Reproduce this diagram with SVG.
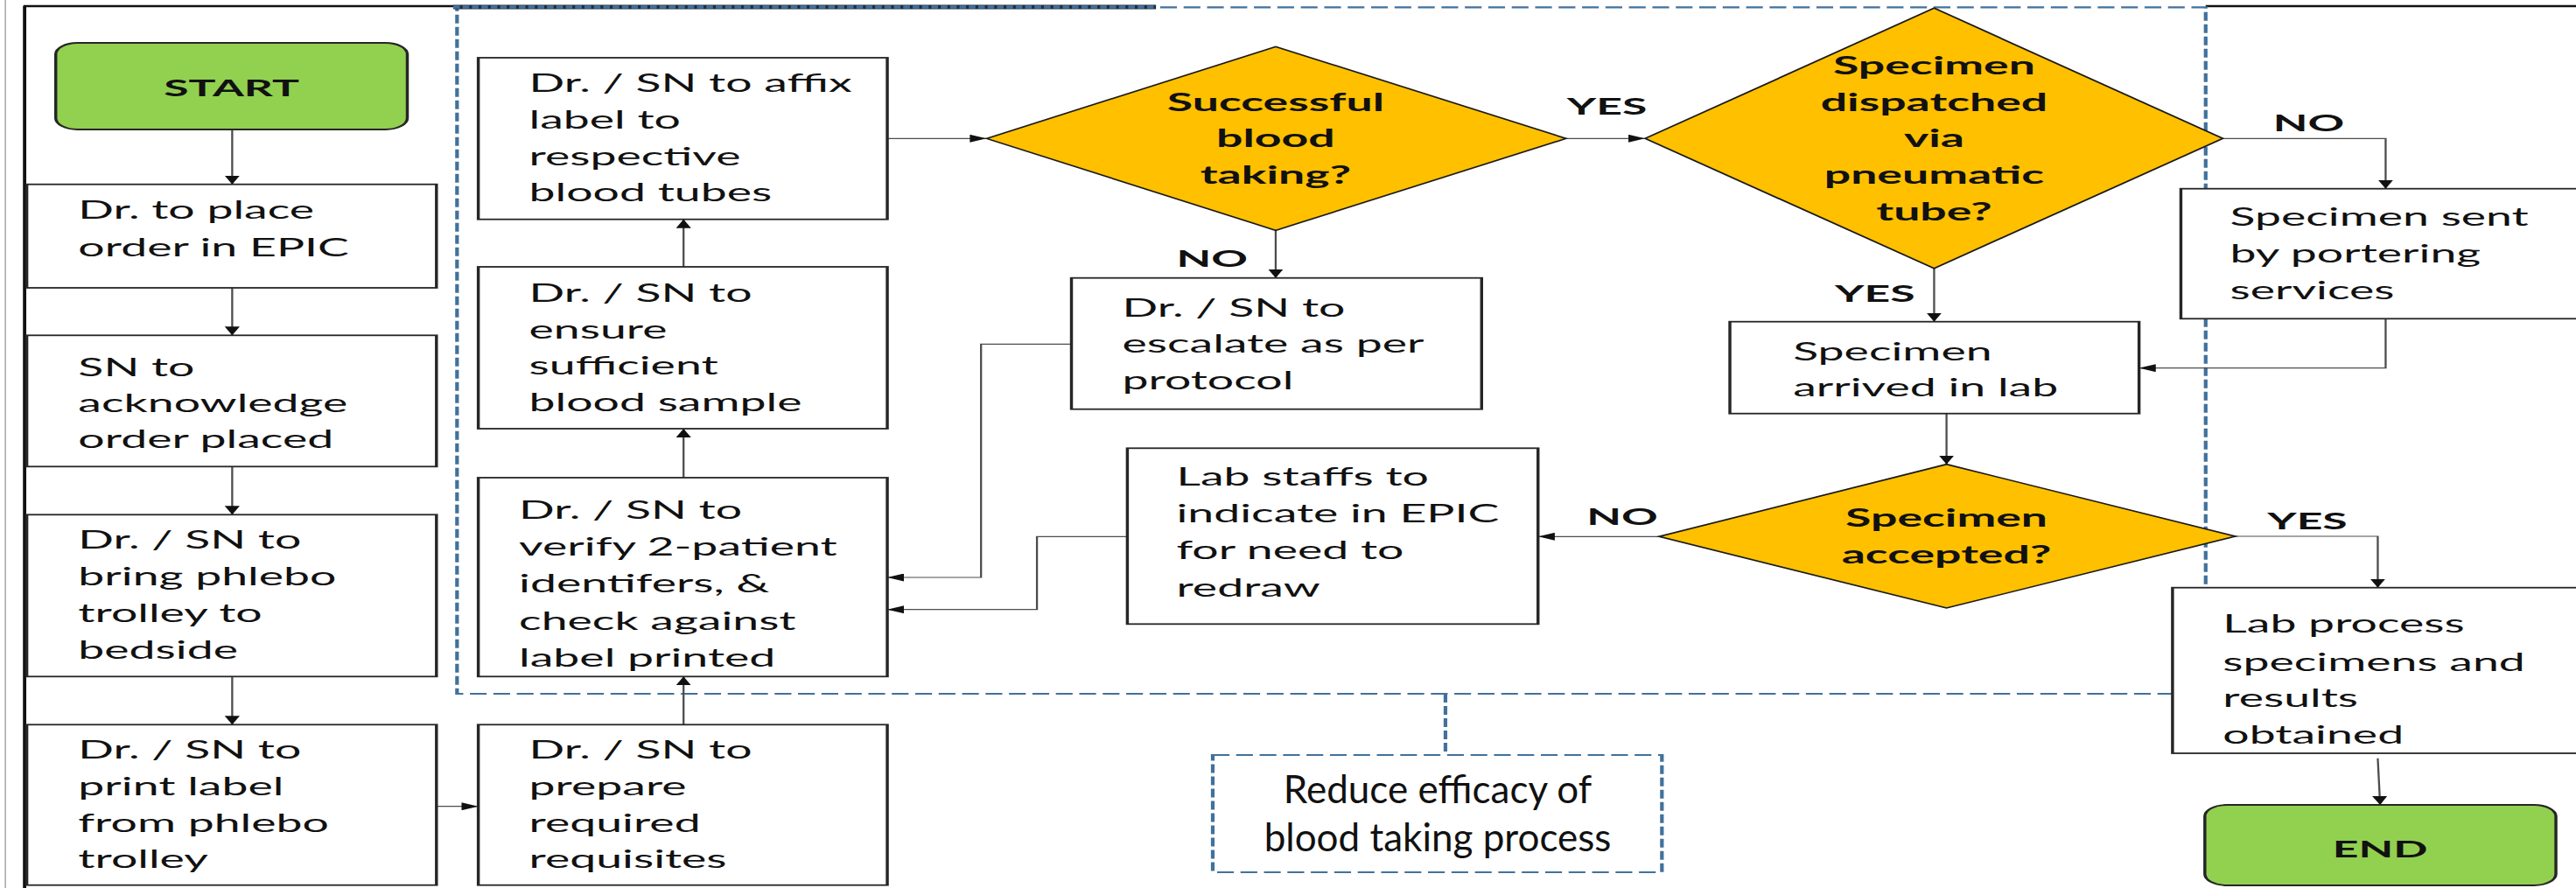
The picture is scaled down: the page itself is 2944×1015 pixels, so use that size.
<svg xmlns="http://www.w3.org/2000/svg" width="2944" height="1015" viewBox="0 0 2944 1015">
<style>
.box{fill:#ffffff;stroke:#262626;stroke-width:1.8}
.term{fill:#92D050;stroke:#262626;stroke-width:1.8}
.dia{fill:#FFC000;stroke:#1a1a1a;stroke-width:1.5}
.t{font-family:Lato,"Liberation Sans",sans-serif;font-size:28px;fill:#111111}
.b{font-family:Lato,"Liberation Sans",sans-serif;font-size:28px;font-weight:bold;fill:#111111;text-anchor:middle}
.lbl{font-family:Lato,"Liberation Sans",sans-serif;font-size:27px;font-weight:bold;fill:#111111}
.con{fill:none;stroke:#4d4d4d;stroke-width:1.2;marker-end:url(#ah)}
.dash{fill:none;stroke:#41719C;stroke-width:2.2;stroke-dasharray:10 4}
.call{font-family:Lato,"Liberation Sans",sans-serif;font-size:44px;fill:#111111;text-anchor:middle}
</style>
<defs>
<marker id="ah" markerUnits="userSpaceOnUse" markerWidth="10" markerHeight="9" refX="10" refY="4.5" orient="auto">
<path d="M0,0 L10,4.5 L0,9 z" fill="#111111"/>
</marker>
</defs>
<rect x="0" y="0" width="2944" height="1015" fill="#ffffff"/>
<g transform="scale(1.9133,1)">
<g id="frame">
<line x1="3.2" y1="0" x2="3.2" y2="1015" stroke="#9a9a9a" stroke-width="0.7"/>
<line x1="14.7" y1="7" x2="14.7" y2="1015" stroke="#111111" stroke-width="2"/>
<line x1="14" y1="7" x2="271" y2="7" stroke="#111111" stroke-width="2.5"/>
<line x1="1317.5" y1="7" x2="1539" y2="7" stroke="#111111" stroke-width="2.5"/>
</g>
<g id="region">
<path class="dash" d="M273,8.3 H1317.5 V793 H273 Z"/>
<line x1="270.7" y1="8" x2="690.5" y2="8" stroke="#1f2d3d" stroke-width="5"/>
<line x1="270.7" y1="8" x2="690.5" y2="8" stroke="#41719C" stroke-width="3.5" stroke-dasharray="4 1.6"/>
<line class="dash" x1="863.4" y1="793" x2="863.4" y2="863"/>
<rect class="dash" x="724.4" y="863" width="268.3" height="134"/>
</g>
<g id="connectors">
<path class="con" d="M138.7,148 V210.7"/>
<path class="con" d="M138.7,329 V383.3"/>
<path class="con" d="M138.7,533.3 V588.3"/>
<path class="con" d="M138.7,773.3 V828.3"/>
<path class="con" d="M260.7,921.7 H285.7"/>
<path class="con" d="M408.3,828.3 V773.3"/>
<path class="con" d="M408.3,546 V490"/>
<path class="con" d="M408.3,305 V250.7"/>
<path class="con" d="M530,158.3 H589.3"/>
<path class="con" d="M935.4,158.3 H982.7"/>
<path class="con" d="M762,263.3 V317.7"/>
<path class="con" d="M640,393.3 H586 V660 H530"/>
<path class="con" d="M673.4,613.3 H619.4 V696.7 H530"/>
<path class="con" d="M991,613.3 H918.7"/>
<path class="con" d="M1327.7,158.3 H1425 V215.7"/>
<path class="con" d="M1155.3,306.7 V367.7"/>
<path class="con" d="M1425,364.3 V420.7 H1277.7"/>
<path class="con" d="M1162.7,472.7 V530.7"/>
<path class="con" d="M1335.3,613 H1420.3 V671.7"/>
<path class="con" d="M1420.3,866.7 L1421.7,920"/>
</g>
<g id="labels">
<text class="lbl" x="936" y="130.7">YES</text>
<text class="lbl" x="702.7" y="305">NO</text>
<text class="lbl" x="1357.7" y="150">NO</text>
<text class="lbl" x="1096" y="345">YES</text>
<text class="lbl" x="947.7" y="600">NO</text>
<text class="lbl" x="1354.3" y="605">YES</text>
</g>
<g id="start">
<rect class="term" x="33.3" y="49" width="210" height="99" rx="13"/>
<text class="b" x="138.3" y="110" style="font-size:27px">START</text>
</g>
<g id="place-order">
<rect class="box" x="16" y="210.7" width="244.7" height="118.3"/>
<text class="t" x="46.7" y="250">Dr. to place</text>
<text class="t" x="46.7" y="292.7">order in EPIC</text>
</g>
<g id="acknowledge">
<rect class="box" x="16" y="383.3" width="244.7" height="150"/>
<text class="t" x="46.7" y="430">SN to</text>
<text class="t" x="46.7" y="471">acknowledge</text>
<text class="t" x="46.7" y="512">order placed</text>
</g>
<g id="bring-trolley">
<rect class="box" x="16" y="588.3" width="244.7" height="185"/>
<text class="t" x="46.7" y="627">Dr. / SN to</text>
<text class="t" x="46.7" y="669">bring phlebo</text>
<text class="t" x="46.7" y="711">trolley to</text>
<text class="t" x="46.7" y="753">bedside</text>
</g>
<g id="print-label">
<rect class="box" x="16" y="828.3" width="244.7" height="183.4"/>
<text class="t" x="46.7" y="867">Dr. / SN to</text>
<text class="t" x="46.7" y="909">print label</text>
<text class="t" x="46.7" y="951">from phlebo</text>
<text class="t" x="46.7" y="992">trolley</text>
</g>
<g id="prepare">
<rect class="box" x="285.7" y="828.3" width="244.3" height="183.4"/>
<text class="t" x="316" y="867">Dr. / SN to</text>
<text class="t" x="316" y="909">prepare</text>
<text class="t" x="316" y="951">required</text>
<text class="t" x="316" y="992">requisites</text>
</g>
<g id="verify">
<rect class="box" x="285.7" y="546" width="244.3" height="227.3"/>
<text class="t" x="310" y="593">Dr. / SN to</text>
<text class="t" x="310" y="635">verify 2-patient</text>
<text class="t" x="310" y="677">identifers, &amp;</text>
<text class="t" x="310" y="720">check against</text>
<text class="t" x="310" y="762">label printed</text>
</g>
<g id="ensure">
<rect class="box" x="285.7" y="305" width="244.3" height="185"/>
<text class="t" x="316" y="345">Dr. / SN to</text>
<text class="t" x="316" y="387">ensure</text>
<text class="t" x="316" y="428">sufficient</text>
<text class="t" x="316" y="470">blood sample</text>
</g>
<g id="affix">
<rect class="box" x="285.7" y="66" width="244.3" height="184.7"/>
<text class="t" x="316" y="105">Dr. / SN to affix</text>
<text class="t" x="316" y="147">label to</text>
<text class="t" x="316" y="189">respective</text>
<text class="t" x="316" y="230">blood tubes</text>
</g>
<g id="successful">
<polygon class="dia" points="589.3,158.3 762,53.3 935.4,158.3 762,263.3"/>
<text class="b" x="762" y="126.7">Successful</text>
<text class="b" x="762" y="168.3">blood</text>
<text class="b" x="762" y="210">taking?</text>
</g>
<g id="escalate">
<rect class="box" x="640" y="317.7" width="245" height="150"/>
<text class="t" x="670.3" y="361.7">Dr. / SN to</text>
<text class="t" x="670.3" y="403.3">escalate as per</text>
<text class="t" x="670.3" y="445">protocol</text>
</g>
<g id="lab-staffs">
<rect class="box" x="673.4" y="512.3" width="245.3" height="201"/>
<text class="t" x="702.7" y="555">Lab staffs to</text>
<text class="t" x="702.7" y="597.3">indicate in EPIC</text>
<text class="t" x="702.7" y="639.3">for need to</text>
<text class="t" x="702.7" y="681.7">redraw</text>
</g>
<g id="dispatched">
<polygon class="dia" points="982.7,158.3 1155.3,9.3 1327.7,158.3 1155.3,306.7"/>
<text class="b" x="1155.3" y="85">Specimen</text>
<text class="b" x="1155.3" y="127">dispatched</text>
<text class="b" x="1155.3" y="168.5">via</text>
<text class="b" x="1155.3" y="210">pneumatic</text>
<text class="b" x="1155.3" y="252">tube?</text>
</g>
<g id="portering">
<rect class="box" x="1302.7" y="215.7" width="245" height="148.6"/>
<text class="t" x="1332" y="258.3">Specimen sent</text>
<text class="t" x="1332" y="300">by portering</text>
<text class="t" x="1332" y="341.7">services</text>
</g>
<g id="arrived">
<rect class="box" x="1033.3" y="367.7" width="244.4" height="105"/>
<text class="t" x="1071" y="411.7">Specimen</text>
<text class="t" x="1071" y="453.3">arrived in lab</text>
</g>
<g id="accepted">
<polygon class="dia" points="991,613.3 1162.7,530.7 1335.3,613 1162.7,695"/>
<text class="b" x="1162.7" y="601.7">Specimen</text>
<text class="b" x="1162.7" y="644">accepted?</text>
</g>
<g id="lab-process">
<rect class="box" x="1297.7" y="671.7" width="250" height="189.3"/>
<text class="t" x="1327.7" y="723.3">Lab process</text>
<text class="t" x="1327.7" y="766.7">specimens and</text>
<text class="t" x="1327.7" y="808.3">results</text>
<text class="t" x="1327.7" y="850">obtained</text>
</g>
<g id="end">
<rect class="term" x="1317" y="920" width="209.7" height="92" rx="13"/>
<text class="b" x="1421.7" y="980" style="font-size:27px">END</text>
</g>
</g>
<g id="callout">
<text class="call" x="1643" y="918">Reduce efficacy of</text>
<text class="call" x="1643" y="973">blood taking process</text>
</g>
</svg>
